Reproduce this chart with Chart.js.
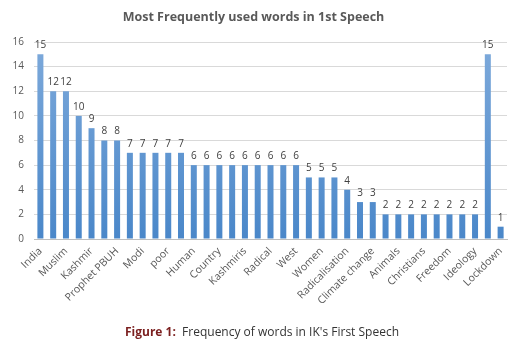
<!DOCTYPE html>
<html lang="en">
  <head>
    <meta charset="UTF-8" />
    <title>Most Frequently used words in 1st Speech</title>
    <script src="https://cdn.jsdelivr.net/npm/chart.js"></script>
    <style>
      html, body { margin: 0; padding: 0; background: #fff; }
      #wrap { position: relative; width: 524px; height: 343px; }
      #caption {
        position: absolute; left: 0; top: 323px; width: 524px;
        text-align: center; font-family: "Open Sans", sans-serif;
        font-size: 12px; color: #333;
      }
      #caption b { color: #7b1f1f; }
    </style>
  </head>
  <body>
    <div id="wrap">
      <canvas id="wordChart" width="524" height="343"></canvas>
      <div id="caption"><b>Figure 1:</b>&nbsp; Frequency of words in IK's First Speech</div>
    </div>
    <script>
      // labels Excel skipped on the axis are left blank
      const words = [
        "India", "", "Muslim", "", "Kashmir", "", "Prophet PBUH", "", "Modi", "",
        "poor", "", "Human", "", "Country", "", "Kashmiris", "", "Radical", "",
        "West", "", "Women", "", "Radicalisation", "", "Climate change", "",
        "Animals", "", "Christians", "", "Freedom", "", "Ideology", "", "Lockdown"
      ];
      const counts = [
        15, 12, 12, 10, 9, 8, 8, 7, 7, 7, 7, 7, 6, 6, 6, 6, 6, 6, 6, 6, 6,
        5, 5, 5, 4, 3, 3, 2, 2, 2, 2, 2, 2, 2, 2, 15, 1
      ];
      const yTicks = [0, 2, 4, 6, 8, 10, 12, 14, 16];

      const font = "'Open Sans', sans-serif";

      // value labels on top of each bar
      const valueLabels = {
        id: "valueLabels",
        afterDatasetsDraw(chart) {
          const ctx = chart.ctx;
          const meta = chart.getDatasetMeta(0);
          ctx.save();
          ctx.font = "10px " + font;
          ctx.fillStyle = "#404040";
          ctx.textAlign = "center";
          ctx.textBaseline = "bottom";
          meta.data.forEach((bar, i) => {
            ctx.fillText(counts[i], bar.x, bar.y - 4);
          });
          ctx.restore();
        },
      };

      new Chart(document.getElementById("wordChart"), {
        type: "bar",
        data: {
          labels: words,
          datasets: [
            {
              data: counts,
              backgroundColor: (c) => {
                const area = c.chart.chartArea;
                if (!area) return "#5b9bd5";
                const g = c.chart.ctx.createLinearGradient(0, area.top, 0, area.bottom);
                g.addColorStop(0, "#7eaadb");
                g.addColorStop(1, "#4a87c9");
                return g;
              },
              categoryPercentage: 1,
              barPercentage: 0.47,
            },
          ],
        },
        options: {
          responsive: false,
          animation: false,
          layout: { padding: { left: 0, right: 17, top: 0, bottom: 30 } },
          plugins: {
            legend: { display: false },
            tooltip: { enabled: false },
            title: {
              display: true,
              text: "Most Frequently used words in 1st Speech",
              color: "#595959",
              font: { family: font, size: 12.5, weight: "bold" },
              padding: { top: 10, bottom: 17 },
            },
          },
          scales: {
            x: {
              grid: { display: false, drawTicks: false },
              border: { color: "#bfbfbf" },
              ticks: {
                autoSkip: false,
                minRotation: 45,
                maxRotation: 45,
                color: "#595959",
                font: { family: font, size: 10.5 },
                padding: 6,
              },
              afterFit: (s) => { s.height = 74; },
            },
            y: {
              min: 0,
              max: 16,
              afterBuildTicks: (s) => { s.ticks = yTicks.map((v) => ({ value: v })); },
              grid: { color: "#d9d9d9", drawTicks: false },
              border: { display: false },
              ticks: {
                color: "#595959",
                font: { family: font, size: 10 },
                padding: 10,
              },
              afterFit: (s) => { s.width = 34; },
            },
          },
        },
        plugins: [valueLabels],
      });
    </script>
  </body>
</html>
